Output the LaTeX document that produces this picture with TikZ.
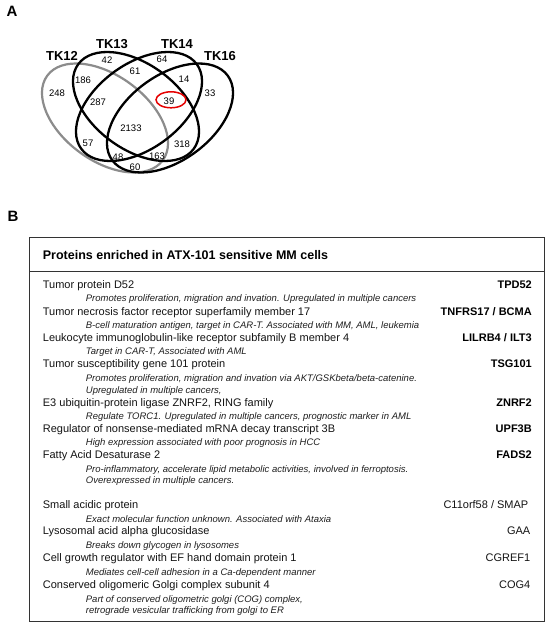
\documentclass[tikz,border=0pt]{standalone}
\usepackage{fontspec}
\setmainfont{Liberation Sans}
\begin{document}
\begin{tikzpicture}[x=1pt,y=1pt,
  venn/.style={line width=2.3pt,draw=black},
  venngray/.style={line width=2.2pt,draw=black!45},
  num/.style={inner sep=0pt,font=\fontsize{9.5}{11}\selectfont},
  setlab/.style={inner sep=0pt,font=\fontsize{13}{15}\selectfont\bfseries},
  panel/.style={inner sep=0pt,font=\fontsize{15}{17}\selectfont\bfseries},
  pname/.style={inner sep=0pt,anchor=mid west,font=\fontsize{11}{13}\selectfont,text=black!92},
  pdesc/.style={inner sep=0pt,anchor=mid west,font=\fontsize{9.5}{11}\selectfont\itshape,text=black!88},
  gbold/.style={inner sep=0pt,anchor=mid east,font=\fontsize{11}{13}\selectfont\bfseries},
  gplain/.style={inner sep=0pt,anchor=mid east,font=\fontsize{11}{13}\selectfont,text=black!92},
  frame/.style={draw=black!80,line width=0.9pt}
]
\useasboundingbox (0,0) rectangle (550,-628);
\fill[white] (0,0) rectangle (550,-628);

% Panel labels
\node[panel] (labA) at (12,-11) {A};
\node[panel] (labB) at (13,-216) {B};

% Venn ellipses
\draw[venngray, rotate around={-36.2:(105,-118)}] (105,-118) ellipse [x radius=71.6, y radius=42.6];
\draw[venn, rotate around={-36.2:(136,-106.5)}] (136,-106.5) ellipse [x radius=71.6, y radius=42.6];
\draw[venn, rotate around={36.2:(139,-106.5)}] (139,-106.5) ellipse [x radius=71.6, y radius=42.6];
\draw[venn, rotate around={36.2:(170,-118)}] (170,-118) ellipse [x radius=71.6, y radius=42.6];
\draw[red!90!black, line width=1.5pt] (171,-99.8) ellipse [x radius=15, y radius=8];

% Set labels
\node[setlab] (tk12) at (62,-56) {TK12};
\node[setlab] (tk13) at (112,-44) {TK13};
\node[setlab] (tk14) at (177,-44) {TK14};
\node[setlab] (tk16) at (220,-56) {TK16};

% Region counts
\node[num] (n42) at (107,-60) {42};
\node[num] (n64) at (162,-59) {64};
\node[num] (n61) at (135,-71) {61};
\node[num] (n186) at (83,-80) {186};
\node[num] (n14) at (184,-79) {14};
\node[num] (n248) at (57,-93) {248};
\node[num] (n33) at (210,-93) {33};
\node[num] (n287) at (98,-102) {287};
\node[num] (n39) at (169,-101.7) {39};
\node[num] (n2133) at (131,-128) {2133};
\node[num] (n57) at (88,-143) {57};
\node[num] (n318) at (182,-144) {318};
\node[num] (n48) at (118,-157) {48};
\node[num] (n163) at (157,-156) {163};
\node[num] (n60) at (135,-167) {60};

% Table frame
\draw[frame] (29.3,-237) rectangle (544,-621.5);
\draw[frame] (29.3,-271.3) -- (544,-271.3);
\node[inner sep=0pt,anchor=mid west,font=\fontsize{12.5}{14}\selectfont\bfseries] (title) at (42.7,-257.3) {Proteins enriched in ATX-101 sensitive MM cells};

% Rows
\node[pname] (r1) at (42.7,-286.3) {Tumor protein D52};
\node[gbold] (g1) at (532,-286.3) {TPD52};
\node[pdesc] (d1) at (85.7,-299) {Promotes proliferation, migration and invation. Upregulated in multiple cancers};

\node[pname] (r2) at (42.7,-313) {Tumor necrosis factor receptor superfamily member 17};
\node[gbold] (g2) at (532,-313) {TNFRS17 / BCMA};
\node[pdesc] (d2) at (85.7,-326.3) {B-cell maturation antigen, target in CAR-T. Associated with MM, AML, leukemia};

\node[pname] (r3) at (42.7,-339) {Leukocyte immunoglobulin-like receptor subfamily B member 4};
\node[gbold] (g3) at (532,-339) {LILRB4 / ILT3};
\node[pdesc] (d3) at (85.7,-352.3) {Target in CAR-T, Associated with AML};

\node[pname] (r4) at (42.7,-365.3) {Tumor susceptibility gene 101 protein};
\node[gbold] (g4) at (532,-365.3) {TSG101};
\node[pdesc] (d4a) at (85.7,-378.7) {Promotes proliferation, migration and invation via AKT/GSKbeta/beta-catenine.};
\node[pdesc] (d4b) at (85.7,-390.7) {Upregulated in multiple cancers,};

\node[pname] (r5) at (42.7,-403.7) {E3 ubiquitin-protein ligase ZNRF2, RING family};
\node[gbold] (g5) at (532,-403.7) {ZNRF2};
\node[pdesc] (d5) at (85.7,-416.7) {Regulate TORC1. Upregulated in multiple cancers, prognostic marker in AML};

\node[pname] (r6) at (42.7,-430) {Regulator of nonsense-mediated mRNA decay transcript 3B};
\node[gbold] (g6) at (532,-430) {UPF3B};
\node[pdesc] (d6) at (85.7,-443) {High expression associated with poor prognosis in HCC};

\node[pname] (r7) at (42.7,-456.3) {Fatty Acid Desaturase 2};
\node[gbold] (g7) at (532,-456.3) {FADS2};
\node[pdesc] (d7a) at (85.7,-470) {Pro-inflammatory, accelerate lipid metabolic activities, involved in ferroptosis.};
\node[pdesc] (d7b) at (85.7,-481.3) {Overexpressed in multiple cancers.};

\node[pname] (r8) at (42.7,-506.3) {Small acidic protein};
\node[gplain] (g8) at (528.5,-506.3) {C11orf58 / SMAP};
\node[pdesc] (d8) at (85.7,-520) {Exact molecular function unknown. Associated with Ataxia};

\node[pname] (r9) at (42.7,-532.3) {Lysosomal acid alpha glucosidase};
\node[gplain] (g9) at (530.5,-532.3) {GAA};
\node[pdesc] (d9) at (85.7,-546.3) {Breaks down glycogen in lysosomes};

\node[pname] (r10) at (42.7,-559) {Cell growth regulator with EF hand domain protein 1};
\node[gplain] (g10) at (530.5,-559) {CGREF1};
\node[pdesc] (d10) at (85.7,-573) {Mediates cell-cell adhesion in a Ca-dependent manner};

\node[pname] (r11) at (42.7,-585.7) {Conserved oligomeric Golgi complex subunit 4};
\node[gplain] (g11) at (530.5,-585.7) {COG4};
\node[pdesc] (d11a) at (85.7,-599.7) {Part of conserved oligometric golgi (COG) complex,};
\node[pdesc] (d11b) at (85.7,-611.3) {retrograde vesicular trafficking from golgi to ER};
\end{tikzpicture}
\end{document}
